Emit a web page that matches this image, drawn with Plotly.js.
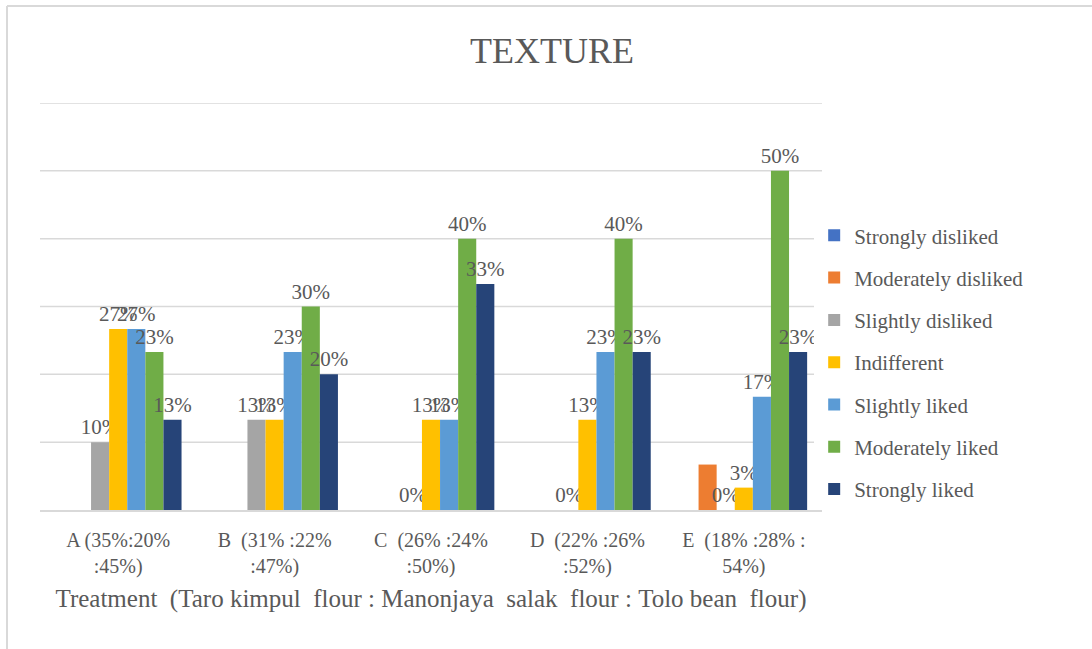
<!DOCTYPE html>
<html>
<head>
<meta charset="utf-8">
<script src="https://cdn.plot.ly/plotly-3.0.1.min.js"></script>
<style>html,body{margin:0;padding:0;background:#fff;}#chart{width:1092px;height:649px;}</style>
</head>
<body>
<div id="chart"></div>
<script>
const categories = ["A (35%:20%<br>:45%)", "B\u00A0\u00A0(31% :22%<br>:47%)", "C\u00A0\u00A0(26% :24%<br>:50%)", "D\u00A0\u00A0(22% :26%<br>:52%)", "E\u00A0\u00A0(18% :28% :<br>54%)"];
const seriesNames = ["Strongly disliked", "Moderately disliked", "Slightly disliked", "Indifferent", "Slightly liked", "Moderately liked", "Strongly liked"];
const seriesColors = ["#4472C4", "#ED7D31", "#A5A5A5", "#FFC000", "#5B9BD5", "#70AD47", "#264478"];
const stronglyDisliked   = [0, 0, 0, 0, 0];
const moderatelyDisliked = [0, 0, 0, 0, 0.067];
const slightlyDisliked   = [0.10, 0.133, 0, 0, 0];
const indifferent        = [0.267, 0.133, 0.133, 0.133, 0.033];
const slightlyLiked      = [0.267, 0.233, 0.133, 0.233, 0.167];
const moderatelyLiked    = [0.233, 0.30, 0.40, 0.40, 0.50];
const stronglyLiked      = [0.133, 0.20, 0.333, 0.233, 0.233];
const labelStronglyDisliked   = ["", "", "", "", ""];
const labelModeratelyDisliked = ["", "", "", "", ""];
const labelSlightlyDisliked   = ["10%", "13%", "0%", "0%", "0%"];
const labelIndifferent        = ["27%", "13%", "13%", "13%", "3%"];
const labelSlightlyLiked      = ["27%", "23%", "13%", "23%", "17%"];
const labelModeratelyLiked    = ["23%", "30%", "40%", "40%", "50%"];
const labelStronglyLiked      = ["13%", "20%", "33%", "23%", "23%"];
const yTicks = [0, 0.1, 0.2, 0.3, 0.4, 0.5, 0.6];

const allValues = [stronglyDisliked, moderatelyDisliked, slightlyDisliked, indifferent, slightlyLiked, moderatelyLiked, stronglyLiked];
const allLabels = [labelStronglyDisliked, labelModeratelyDisliked, labelSlightlyDisliked, labelIndifferent, labelSlightlyLiked, labelModeratelyLiked, labelStronglyLiked];

const serif = "Liberation Serif, Times New Roman, serif";
const traces = seriesNames.map((name, i) => ({
  type: "bar",
  name: name,
  legendgroup: "g" + i,
  x: categories,
  y: allValues[i],
  text: allLabels[i],
  textposition: "outside",
  constraintext: "none",
  cliponaxis: false,
  textfont: {family: serif, size: 21, color: "#595959"},
  marker: {color: seriesColors[i]},
  hoverinfo: "name+y"
}));

// pixel helpers for border shapes (plot area: x 40..822, y 103..510)
const px = v => (v - 40) / 782;
const py = v => (510 - v) / 407;

const gridShapes = yTicks.slice(1).map(t => ({
  type: "line", xref: "paper", yref: "y", x0: 0, x1: 1, y0: t, y1: t,
  line: {color: "#d9d9d9", width: 1.5}, layer: "below"
}));

const layout = {
  width: 1092, height: 649,
  margin: {l: 40, r: 270, t: 103, b: 139},
  paper_bgcolor: "#ffffff", plot_bgcolor: "#ffffff",
  barmode: "group",
  bargap: 0.19,
  bargroupgap: 0,
  title: {text: "TEXTURE", font: {family: serif, size: 36, color: "#595959"}, x: 0.5055, xanchor: "center", xref: "container", yref: "container", y: 0.923, yanchor: "middle"},
  xaxis: {
    showgrid: false, zeroline: false, showline: true, linecolor: "#d9d9d9", linewidth: 1.5,
    ticks: "", ticklabelstandoff: 11, tickfont: {family: serif, size: 20, color: "#595959"},
    title: {text: "Treatment\u00A0\u00A0(Taro\u00A0kimpul\u00A0\u00A0flour\u00A0:\u00A0Manonjaya\u00A0\u00A0salak\u00A0\u00A0flour\u00A0:\u00A0Tolo\u00A0bean\u00A0\u00A0flour)", font: {family: serif, size: 25, color: "#595959"}, standoff: 13},
    automargin: false
  },
  yaxis: {
    range: [0, 0.6], tickvals: yTicks, showgrid: false,
    showticklabels: false, zeroline: false, ticks: "", automargin: false
  },
  legend: {
    x: 0.99, xanchor: "left", y: 0.362, yanchor: "middle",
    font: {family: serif, size: 21, color: "#595959"},
    tracegroupgap: 12, itemwidth: 30,
    traceorder: "grouped"
  },
  showlegend: true,
  shapes: gridShapes.concat([
    {type: "line", xref: "paper", yref: "paper", x0: px(7), x1: px(1092), y0: py(6), y1: py(6), line: {color: "#d9d9d9", width: 2}},
    {type: "line", xref: "paper", yref: "paper", x0: px(7), x1: px(7), y0: py(6), y1: py(649), line: {color: "#d9d9d9", width: 2}}
  ])
};

Plotly.newPlot("chart", traces, layout, {displayModeBar: false, staticPlot: true});
</script>
</body>
</html>
